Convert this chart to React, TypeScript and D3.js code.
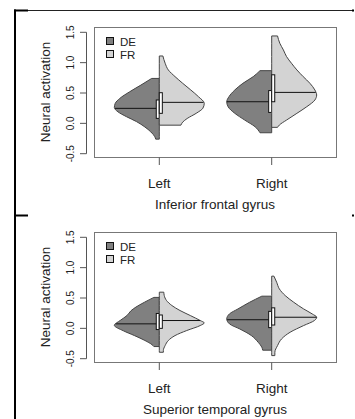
import React from 'react';
import * as d3 from 'd3';

const W = 355;
const H = 419;

// categories, groups, titles
const categories = ['Left', 'Right'];
const groups = ['DE', 'FR'];
const groupColors = ['#808080', '#d3d3d3'];
const panelTitles = ['Inferior frontal gyrus', 'Superior temporal gyrus'];
const yTicks = [-0.5, 0, 0.5, 1, 1.5];
const yTickLabels = ['-0.5', '0.0', '0.5', '1.0', '1.5'];

// violin outlines: [activation, relative density]
const ifgLeftDE = [[0.74, 0.17], [0.63, 0.41], [0.52, 0.66], [0.41, 0.88], [0.33, 0.98], [0.26, 1.0], [0.19, 0.92], [0.11, 0.73], [0.03, 0.51], [-0.06, 0.32], [-0.14, 0.19], [-0.22, 0.1], [-0.26, 0.08]];
const ifgLeftFR = [[1.11, 0.08], [0.99, 0.13], [0.88, 0.2], [0.77, 0.35], [0.66, 0.52], [0.55, 0.7], [0.44, 0.87], [0.33, 1.0], [0.25, 0.97], [0.165, 0.82], [0.08, 0.62], [0.02, 0.52], [-0.03, 0.48]];
const ifgRightDE = [[0.868, 0.26], [0.77, 0.41], [0.66, 0.64], [0.55, 0.82], [0.44, 0.95], [0.356, 1.0], [0.274, 0.97], [0.165, 0.82], [0.054, 0.6], [-0.056, 0.37], [-0.155, 0.26]];
const ifgRightFR = [[1.44, 0.13], [1.32, 0.18], [1.21, 0.26], [1.1, 0.33], [0.99, 0.44], [0.88, 0.56], [0.77, 0.7], [0.66, 0.85], [0.55, 0.96], [0.467, 1.0], [0.384, 0.96], [0.274, 0.78], [0.165, 0.56], [0.054, 0.33], [-0.028, 0.17], [-0.066, 0.13]];
const stgLeftDE = [[0.51, 0.12], [0.43, 0.33], [0.35, 0.52], [0.29, 0.63], [0.21, 0.72], [0.13, 0.87], [0.05, 1.0], [-0.04, 0.8], [-0.12, 0.55], [-0.2, 0.32], [-0.27, 0.16], [-0.3, 0.12]];
const stgLeftFR = [[0.596, 0.1], [0.541, 0.11], [0.459, 0.16], [0.376, 0.28], [0.294, 0.46], [0.211, 0.69], [0.129, 0.91], [0.09, 1.0], [0.046, 0.91], [-0.036, 0.61], [-0.119, 0.35], [-0.201, 0.2], [-0.283, 0.13], [-0.366, 0.09], [-0.394, 0.09]];
const stgRightDE = [[0.53, 0.22], [0.43, 0.49], [0.32, 0.75], [0.238, 0.94], [0.155, 1.0], [0.074, 0.94], [-0.01, 0.71], [-0.12, 0.45], [-0.23, 0.3], [-0.31, 0.22], [-0.36, 0.2]];
const stgRightFR = [[0.86, 0.05], [0.76, 0.11], [0.65, 0.17], [0.54, 0.3], [0.43, 0.49], [0.32, 0.71], [0.238, 0.9], [0.183, 1.0], [0.129, 0.95], [0.046, 0.71], [-0.064, 0.41], [-0.174, 0.22], [-0.284, 0.13], [-0.394, 0.07], [-0.449, 0.07]];

// boxes: [q1, median, q3]
const ifgLeftDEBox = [0.082, 0.247, 0.385];
const ifgLeftFRBox = [0.165, 0.346, 0.505];
const ifgRightDEBox = [0.18, 0.356, 0.54];
const ifgRightFRBox = [0.356, 0.51, 0.8];
const stgLeftDEBox = [-0.02, 0.074, 0.245];
const stgLeftFRBox = [0.0, 0.129, 0.22];
const stgRightDEBox = [0.012, 0.142, 0.28];
const stgRightFRBox = [0.055, 0.183, 0.338];

const panels = [
  {
    title: panelTitles[0],
    shapes: [[ifgLeftDE, ifgLeftFR], [ifgRightDE, ifgRightFR]],
    boxes: [[ifgLeftDEBox, ifgLeftFRBox], [ifgRightDEBox, ifgRightFRBox]]
  },
  {
    title: panelTitles[1],
    shapes: [[stgLeftDE, stgLeftFR], [stgRightDE, stgRightFR]],
    boxes: [[stgLeftDEBox, stgLeftFRBox], [stgRightDEBox, stgRightFRBox]]
  }
];

const PANEL_STEP = 205;
const FONT = '"Liberation Sans", Arial, sans-serif';

const x = d3.scaleLinear().domain([1, 2]).range([159.3, 271.7]);
const y = d3.scaleLinear().domain([-0.5, 1.5]).range([153.7, 32.3]);
const halfWidth = 0.4; // max half width of a violin, in x units
const boxHalf = 0.027;

const Panel = ({ panel, dy }) => {
  return (
    <g transform={`translate(0, ${dy})`}>
      {/* frame marks */}
      <line x1={14} x2={28} y1={10.5} y2={10.5} stroke="#000" strokeWidth={2} />
      <rect x={352} y={9.5} width={2} height={2} fill="#000" />

      {/* plot box */}
      <rect x={94.5} y={27.5} width={242} height={130} fill="none" stroke="#777" />

      {/* y axis */}
      <line x1={86.5} x2={86.5} y1={y(1.5)} y2={y(-0.5)} stroke="#555" />
      {yTicks.map((t, i) => (
        <g key={t}>
          <line x1={80} x2={86.5} y1={y(t)} y2={y(t)} stroke="#555" />
          <text
            transform={`translate(74, ${y(t)}) rotate(-90)`}
            textAnchor="middle"
            fontSize={10}
            fontFamily={FONT}
            fill="#222"
          >
            {yTickLabels[i]}
          </text>
        </g>
      ))}
      <text
        transform={`translate(50, 92) rotate(-90)`}
        textAnchor="middle"
        fontSize={13.5}
        fontFamily={FONT}
        fill="#222"
      >
        Neural activation
      </text>

      {/* x axis */}
      {categories.map((c, i) => (
        <g key={c}>
          <line x1={x(i + 1)} x2={x(i + 1)} y1={157.5} y2={165} stroke="#555" />
          <text x={x(i + 1)} y={188.3} textAnchor="middle" fontSize={13.5} fontFamily={FONT} fill="#222">
            {c}
          </text>
        </g>
      ))}
      <text x={215} y={208.7} textAnchor="middle" fontSize={13.5} fontFamily={FONT} fill="#222">
        {panel.title}
      </text>

      {/* violins */}
      {panel.shapes.map((pair, ci) => {
        const cx = x(ci + 1);
        return pair.map((shape, gi) => {
          const sign = gi === 0 ? -1 : 1;
          const area = d3
            .area()
            .curve(d3.curveMonotoneY)
            .y((d) => y(d[0]))
            .x0(cx)
            .x1((d) => x(ci + 1 + sign * d[1] * halfWidth));
          const dens = d3.scaleLinear().domain(shape.map((d) => d[0])).range(shape.map((d) => d[1]));
          const [q1, med, q3] = panel.boxes[ci][gi];
          const medX = x(ci + 1 + sign * dens(med) * halfWidth);
          const bx0 = gi === 0 ? x(ci + 1 - boxHalf) : cx;
          const bx1 = gi === 0 ? cx : x(ci + 1 + boxHalf);
          return (
            <g key={`${ci}-${gi}`}>
              <path d={area(shape)} fill={groupColors[gi]} stroke="#444" strokeWidth={1} />
              <line x1={cx} x2={medX} y1={y(med)} y2={y(med)} stroke="#111" strokeWidth={1} />
              <rect x={bx0} y={y(q3)} width={bx1 - bx0} height={y(q1) - y(q3)} fill="#fff" stroke="#111" strokeWidth={1} />
            </g>
          );
        });
      })}

      {/* legend */}
      {groups.map((g, i) => (
        <g key={g} transform={`translate(0, ${i * 13})`}>
          <rect x={106.5} y={37.5} width={7} height={7} fill={groupColors[i]} stroke="#111" />
          <text x={120} y={45.5} fontSize={11.5} fontFamily={FONT} fill="#222">
            {g}
          </text>
        </g>
      ))}
    </g>
  );
};

const App = () => {
  return (
    <svg width={W} height={H} style={{ position: 'absolute', left: 0, top: 0, background: '#fff' }}>
      <rect width={W} height={H} fill="#fff" />
      <line x1={15} x2={354} y1={10.5} y2={10.5} stroke="#222" strokeWidth={1} />
      <line x1={15} x2={15} y1={9.5} y2={H} stroke="#000" strokeWidth={2} />
      {panels.map((p, i) => (
        <Panel key={p.title} panel={p} dy={i * PANEL_STEP} />
      ))}
    </svg>
  );
};

export default App;
